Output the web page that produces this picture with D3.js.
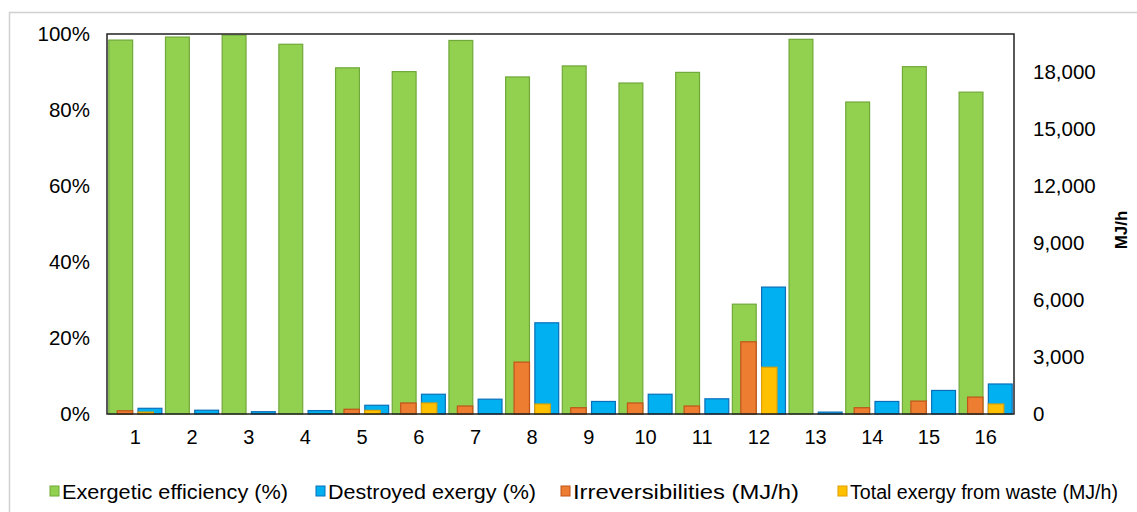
<!DOCTYPE html>
<html lang="en">
<head>
<meta charset="UTF-8">
<script src="https://d3js.org/d3.v7.min.js"></script>
<style>
  body { margin: 0; background: #fff; }
  svg text { font-family: "Liberation Sans", Arial, sans-serif; fill: #000; }
</style>
</head>
<body>
<svg id="chart" width="1137" height="512"></svg>
<script>
// data
const categories = ["1","2","3","4","5","6","7","8","9","10","11","12","13","14","15","16"];
const efficiency = [98.4, 99.2, 99.7, 97.3, 91.1, 90.1, 98.3, 88.7, 91.6, 87.1, 89.9, 28.9, 98.6, 82.1, 91.4, 84.7];
const destroyed  = [1.5, 1.0, 0.6, 0.9, 2.3, 5.2, 3.9, 24.0, 3.3, 5.2, 4.0, 33.4, 0.5, 3.3, 6.2, 7.9];
const irreversibilities = [170, 0, 0, 0, 250, 580, 420, 2730, 330, 580, 420, 3800, 0, 330, 680, 890];
const wasteExergy = [100, 0, 0, 0, 190, 580, 0, 525, 0, 0, 0, 2460, 0, 0, 0, 525];
const leftTicks = [0, 20, 40, 60, 80, 100];
const rightTicks = [0, 3000, 6000, 9000, 12000, 15000, 18000];
const legendLabels = ["Exergetic efficiency (%)", "Destroyed exergy (%)", "Irreversibilities (MJ/h)", "Total exergy from waste (MJ/h)"];

const colors = {
  eff:  { fill: "#92d050", stroke: "#70a83a" },
  des:  { fill: "#00b0f0", stroke: "#0a6fb8" },
  irr:  { fill: "#ed7d31", stroke: "#c0541a" },
  was:  { fill: "#ffc000", stroke: "#e0a000" }
};

const svg = d3.select("#chart");
const plotL = 107, plotR = 1014, plotT = 34, plotB = 414;

// outer frame
svg.append("rect")
  .attr("x", 9.5).attr("y", 12.5).attr("width", 1140).attr("height", 520)
  .attr("fill", "none").attr("stroke", "#d0d0d0").attr("stroke-width", 1.5);

const x = d3.scaleBand().domain(categories).range([plotL, plotR]).padding(0);
const yL = d3.scaleLinear().domain([0, 100]).range([plotB, plotT]);
const yR = d3.scaleLinear().domain([0, 20000]).range([plotB, plotT]);

const bw = x.bandwidth();
const inner = d3.scaleBand().domain(["a", "b"]).range([1.3, bw - 1.3]).paddingInner(0.15);
const inner2 = d3.scaleBand().domain(["a", "b"]).range([bw / 2 - 18.6, bw / 2 + 18.6]).paddingInner(0.21);

function bars(values, scale, sub, key, c) {
  svg.append("g").selectAll("rect")
    .data(values)
    .enter().append("rect")
    .attr("x", (d, i) => x(categories[i]) + sub(key) + 0.5)
    .attr("width", sub.bandwidth() - 1)
    .attr("y", d => scale(d))
    .attr("height", d => Math.max(0, plotB - scale(d)))
    .attr("fill", c.fill)
    .attr("stroke", c.stroke)
    .attr("stroke-width", d => d > 0 ? 1.2 : 0);
}

bars(efficiency, yL, inner, "a", colors.eff);
bars(destroyed, yL, inner, "b", colors.des);
bars(irreversibilities, yR, inner2, "a", colors.irr);
bars(wasteExergy, yR, inner2, "b", colors.was);

// plot area border
svg.append("rect")
  .attr("x", plotL).attr("y", plotT).attr("width", plotR - plotL).attr("height", plotB - plotT)
  .attr("fill", "none").attr("stroke", "#222").attr("stroke-width", 1.5);

// left axis
const axL = svg.append("g")
  .attr("transform", "translate(" + plotL + ",0)")
  .call(d3.axisLeft(yL).tickValues(leftTicks).tickSize(0).tickPadding(17).tickFormat(d => d + "%"));
axL.select(".domain").remove();
axL.selectAll("text").style("font-size", "20.5px").attr("font-family", null);

// right axis
const axR = svg.append("g")
  .attr("transform", "translate(" + plotR + ",0)")
  .call(d3.axisRight(yR).tickValues(rightTicks).tickSize(0).tickPadding(19).tickFormat(d3.format(",")));
axR.select(".domain").remove();
axR.selectAll("text").style("font-size", "20.5px").attr("font-family", null);

// bottom axis
const axB = svg.append("g")
  .attr("transform", "translate(0," + plotB + ")")
  .call(d3.axisBottom(x).tickSize(0).tickPadding(16));
axB.select(".domain").remove();
axB.selectAll("text").style("font-size", "20px").attr("font-family", null);

// right axis title
svg.append("text")
  .attr("transform", "translate(1127,230) rotate(-90)")
  .attr("text-anchor", "middle")
  .style("font-size", "17px").style("font-weight", "bold")
  .text("MJ/h");

// legend
const legendX = [50, 316, 561, 838];
const legendW = [226, 208, 226, 268];
const legendColors = [colors.eff, colors.des, colors.irr, colors.was];
const lg = svg.append("g");
legendLabels.forEach((t, i) => {
  lg.append("rect")
    .attr("x", legendX[i]).attr("y", 486).attr("width", 9).attr("height", 10)
    .attr("fill", legendColors[i].fill).attr("stroke", legendColors[i].stroke).attr("stroke-width", 1);
  lg.append("text")
    .attr("x", legendX[i] + 12).attr("y", 498.5)
    .attr("textLength", legendW[i]).attr("lengthAdjust", "spacingAndGlyphs")
    .style("font-size", "20px")
    .text(t);
});
</script>
</body>
</html>
